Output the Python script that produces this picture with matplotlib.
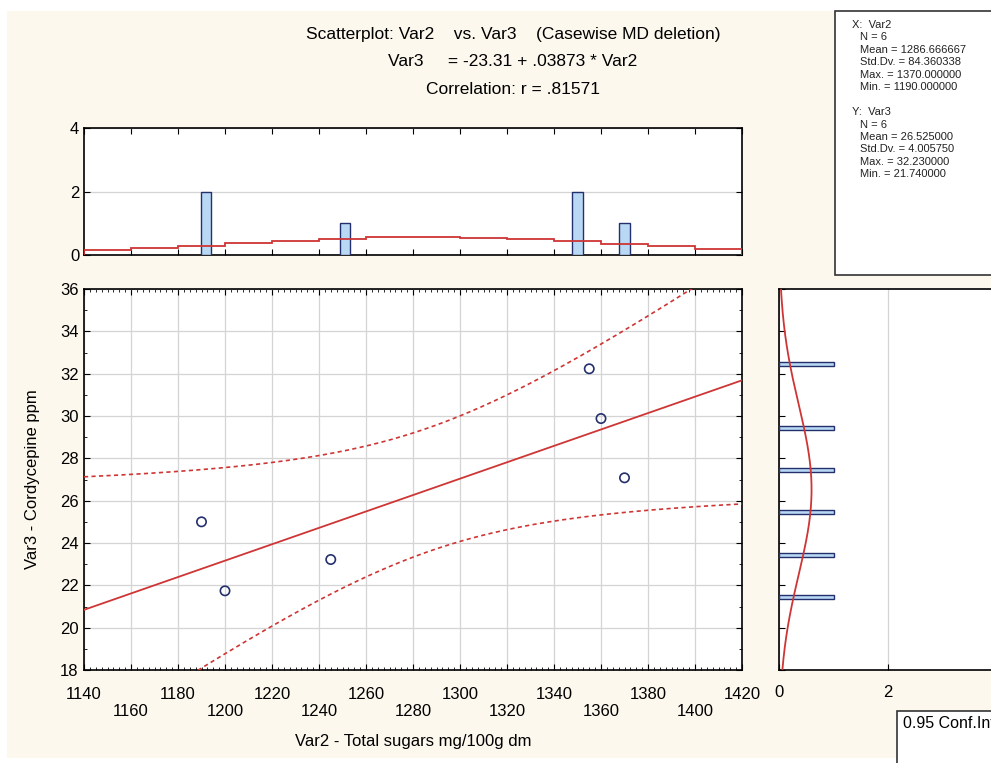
import numpy as np
import matplotlib
matplotlib.use("Agg")
import matplotlib.pyplot as plt
from matplotlib.patches import Rectangle

plt.rcParams['font.family'] = ['Liberation Sans', 'DejaVu Sans']

# data
var2 = [1190, 1200, 1245, 1355, 1360, 1370]
var3 = [25.0, 21.74, 23.22, 32.23, 29.88, 27.08]
intercept, slope = -23.31, 0.03873
t_crit = 2.776  # t(0.975, df=4)

top_bins = [1192, 1251, 1350, 1370]
top_counts = [2, 1, 2, 1]
right_bins = [21.45, 23.45, 25.45, 27.45, 29.45, 32.45]
right_counts = [1, 1, 1, 1, 1, 1]

xticks = list(range(1140, 1421, 20))
yticks = list(range(18, 37, 2))

stats_x = ["X:  Var2", "N = 6", "Mean = 1286.666667", "Std.Dv. = 84.360338",
           "Max. = 1370.000000", "Min. = 1190.000000"]
stats_y = ["Y:  Var3", "N = 6", "Mean = 26.525000", "Std.Dv. = 4.005750",
           "Max. = 32.230000", "Min. = 21.740000"]

RED = '#CE3535'
NAVY = '#24306E'
BARFILL = '#B9D8F4'
CREAM = '#FCF8EE'
FS = 12

W, H = 991, 763
fig = plt.figure(figsize=(W / 100, H / 100), dpi=100, facecolor='white')

def fx(px):
    return px / W

def fy(py):
    return 1 - py / H

fig.patches.append(Rectangle((fx(7), fy(758)), 1, fy(11) - fy(758),
                             transform=fig.transFigure, facecolor=CREAM,
                             edgecolor='none', zorder=-10))

x = np.array(var2, float)
y = np.array(var3, float)
n = len(x)
xbar, sx = x.mean(), x.std(ddof=1)
ybar, sy = y.mean(), y.std(ddof=1)
resid = y - (intercept + slope * x)
s = np.sqrt((resid ** 2).sum() / (n - 2))
sxx = ((x - xbar) ** 2).sum()

# main scatter
ax = fig.add_axes([fx(84), fy(670), fx(742) - fx(84), fy(289) - fy(670)])
ax.set_xlim(1140, 1420)
ax.set_ylim(18, 36)
xs = np.linspace(1140, 1420, 300)
yh = intercept + slope * xs
hw = t_crit * s * np.sqrt(1 / n + (xs - xbar) ** 2 / sxx)
ax.plot(xs, yh, color=RED, lw=1.3, zorder=3)
ax.plot(xs, yh + hw, color=RED, lw=1.2, ls=(0, (2.5, 2)), zorder=3)
ax.plot(xs, yh - hw, color=RED, lw=1.2, ls=(0, (2.5, 2)), zorder=3)
ax.scatter(x, y, s=45, facecolors='none', edgecolors=NAVY, linewidths=1.2, zorder=4)
ax.set_xticks(xticks)
ax.set_xticklabels([f"{v}\n" if i % 2 == 0 else f"\n{v}" for i, v in enumerate(xticks)])
ax.set_yticks(yticks)
ax.set_xticks(np.arange(1140, 1421, 2.5), minor=True)
ax.set_yticks(np.arange(18, 36.1, 1), minor=True)
ax.grid(True, which='major', color='#D4D4D4', lw=0.9)
ax.tick_params(which='both', direction='in', top=True, right=True, labelsize=FS)
ax.tick_params(which='major', length=4)
ax.tick_params(which='minor', length=2.5)
ax.tick_params(axis='x', which='major', pad=12)
ax.tick_params(axis='y', which='major', pad=4)
for sp in ax.spines.values():
    sp.set_linewidth(1.2)
ax.set_xlabel("Var2 - Total sugars mg/100g dm", fontsize=FS, labelpad=11)
ax.set_ylabel("Var3 - Cordycepine ppm", fontsize=FS, labelpad=14)

# top histogram
axt = fig.add_axes([fx(84), fy(255), fx(742) - fx(84), fy(128) - fy(255)])
axt.set_xlim(1140, 1420)
axt.set_ylim(0, 4)
axt.bar(top_bins, top_counts, width=4.4, color=BARFILL, edgecolor=NAVY, lw=1.0, zorder=3)
cent = np.arange(1150, 1420, 20)
dens = n * 20 * np.exp(-0.5 * ((cent - xbar) / sx) ** 2) / (sx * np.sqrt(2 * np.pi))
edges = np.append(cent - 10, 1420)
axt.stairs(dens, edges, color=RED, lw=1.3, zorder=4)
axt.set_yticks([0, 2, 4])
axt.set_xticks(xticks)
axt.tick_params(axis='x', labelbottom=False, direction='in', top=True, length=4)
axt.tick_params(axis='y', direction='in', right=True, labelsize=FS, length=4)
axt.grid(True, axis='y', color='#D4D4D4', lw=0.9)
for sp in axt.spines.values():
    sp.set_linewidth(1.2)

# right histogram
axr = fig.add_axes([fx(779), fy(670), 4.2 * 54.5 / W, fy(289) - fy(670)])
axr.set_xlim(0, 4.2)
axr.set_ylim(18, 36)
axr.barh(right_bins, right_counts, height=0.2, color=BARFILL, edgecolor=NAVY, lw=1.0, zorder=3)
yy = np.linspace(18, 36, 300)
dy = n * 1.0 * np.exp(-0.5 * ((yy - ybar) / sy) ** 2) / (sy * np.sqrt(2 * np.pi))
axr.plot(dy, yy, color=RED, lw=1.3, zorder=4)
axr.set_xticks([0, 2])
axr.set_yticks(yticks)
axr.tick_params(axis='y', labelleft=False, direction='in', length=4)
axr.tick_params(axis='x', direction='in', labelsize=FS, length=4, pad=11)
axr.grid(True, axis='x', color='#D4D4D4', lw=0.9)
for sp in axr.spines.values():
    sp.set_linewidth(1.2)

# titles
fig.text(fx(513), fy(35), "Scatterplot: Var2    vs. Var3    (Casewise MD deletion)",
         ha='center', va='center', fontsize=12.5)
fig.text(fx(513), fy(62), "Var3     = -23.31 + .03873 * Var2",
         ha='center', va='center', fontsize=12.5)
fig.text(fx(513), fy(90), "Correlation: r = .81571",
         ha='center', va='center', fontsize=12.5)

# stats box
fig.patches.append(Rectangle((fx(835), fy(275)), 0.5, fy(11) - fy(275),
                             transform=fig.transFigure, facecolor='white',
                             edgecolor='#333333', lw=1.2, zorder=5))
yline = 25
for lines in (stats_x, stats_y):
    for i, t in enumerate(lines):
        xpos = 852 if i == 0 else 860
        fig.text(fx(xpos), fy(yline), t, ha='left', va='center', fontsize=8,
                 color='#222222', zorder=6)
        yline += 12.4
    yline += 12.8

# conf box
fig.patches.append(Rectangle((fx(897), fy(800)), 0.5, fy(711) - fy(800),
                             transform=fig.transFigure, facecolor='white',
                             edgecolor='#333333', lw=1.2, zorder=5))
fig.text(fx(903), fy(724), "0.95 Conf.Int.", ha='left', va='center', fontsize=11.5, zorder=6)

fig.savefig("out.png", dpi=100, facecolor=fig.get_facecolor())
